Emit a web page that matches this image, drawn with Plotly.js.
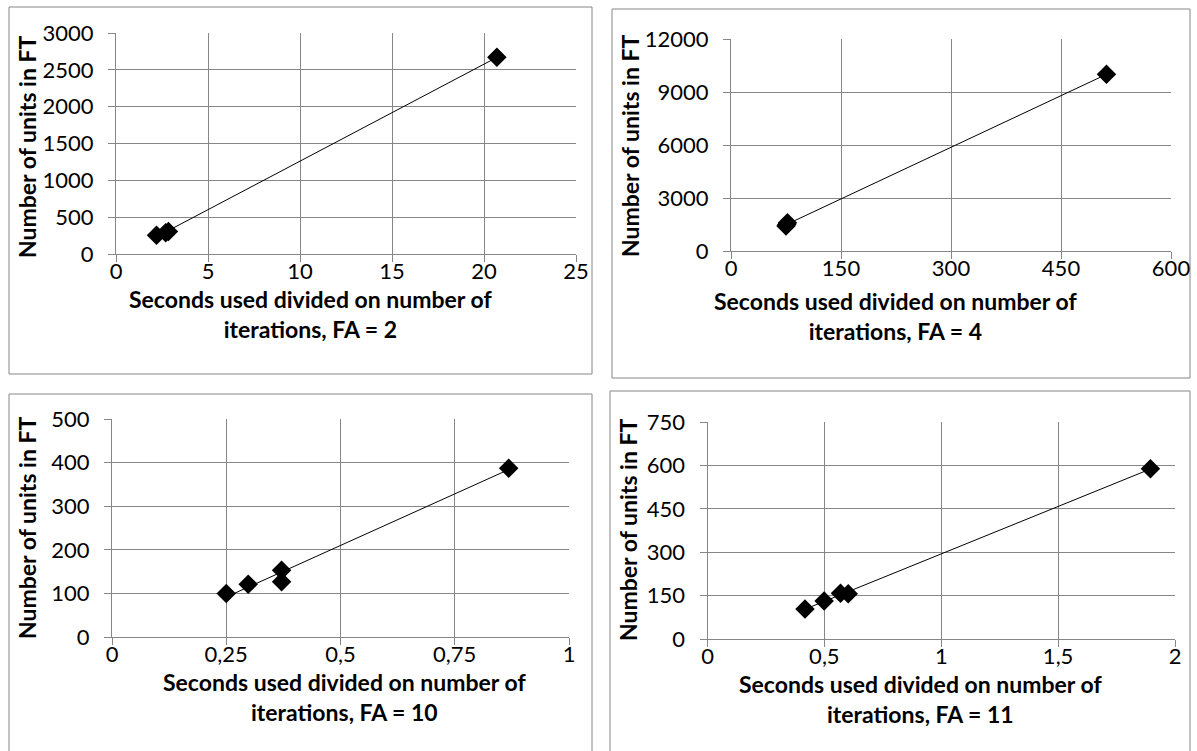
<!DOCTYPE html>
<html>
<head>
<meta charset="utf-8">
<script src="https://cdn.plot.ly/plotly-3.0.1.min.js"></script>
<style>
html,body{margin:0;padding:0;background:#fff;}
#chart{width:1197px;height:751px;}
</style>
</head>
<body>
<div id="chart"></div>
<script>
// ---- Data ----
var fa2_x = [2.2, 2.7, 2.85, 20.7];
var fa2_y = [255, 290, 305, 2670];
var fa4_x = [75, 76, 77, 512];
var fa4_y = [1420, 1500, 1600, 10000];
var fa10_x = [0.25, 0.298, 0.371, 0.371, 0.868];
var fa10_y = [100, 121, 127, 153, 387];
var fa11_x = [0.417, 0.499, 0.569, 0.602, 1.895];
var fa11_y = [104, 131, 158, 156, 588];

var fa2_xticks = [0, 5, 10, 15, 20, 25];
var fa2_yticks = [0, 500, 1000, 1500, 2000, 2500, 3000];
var fa4_xticks = [0, 150, 300, 450, 600];
var fa4_yticks = [0, 3000, 6000, 9000, 12000];
var fa10_xticks = [0, 0.25, 0.5, 0.75, 1];
var fa10_xlabels = ["0", "0,25", "0,5", "0,75", "1"];
var fa10_yticks = [0, 100, 200, 300, 400, 500];
var fa11_xticks = [0, 0.5, 1, 1.5, 2];
var fa11_xlabels = ["0", "0,5", "1", "1,5", "2"];
var fa11_yticks = [0, 150, 300, 450, 600, 750];

var yTitle = "Number of units in FT";
var xTitles = [
  "Seconds used divided on number of<br>iterations, FA = 2",
  "Seconds used divided on number of<br>iterations, FA = 4",
  "Seconds used divided on number of<br>iterations, FA = 10",
  "Seconds used divided on number of<br>iterations, FA = 11"
];

// ---- Layout helpers ----
var W = 1197, H = 751;
function px(x){ return x / W; }
function py(y){ return 1 - y / H; }

var GRID = '#868686';
var FONT = 'Lato, "Open Sans", sans-serif';
var TICKSIZE = 22, TITLESIZE = 23;
var titleFont = {family: FONT, size: TITLESIZE, color: '#000', weight: 'bold'};

// Linear trendline (least squares) spanning the data's x extent, like Excel's
function trend(x, y, xa, ya){
  var n = x.length, sx = 0, sy = 0, sxx = 0, sxy = 0;
  for (var i = 0; i < n; i++){ sx += x[i]; sy += y[i]; sxx += x[i]*x[i]; sxy += x[i]*y[i]; }
  var b = (n*sxy - sx*sy) / (n*sxx - sx*sx), a = (sy - b*sx) / n;
  var x0 = Math.min.apply(null, x), x1 = Math.max.apply(null, x);
  return {x: [x0, x1], y: [a + b*x0, a + b*x1], xaxis: xa, yaxis: ya,
    type: 'scatter', mode: 'lines', line: {color: '#000', width: 1},
    hoverinfo: 'skip', showlegend: false};
}
function pts(x, y, xa, ya){
  return {
    x: x, y: y, xaxis: xa, yaxis: ya, type: 'scatter', mode: 'markers',
    marker: {symbol: 'diamond', size: 15, color: '#000'},
    hoverinfo: 'x+y', showlegend: false
  };
}

function xAxis(domain, range, tv, tt, anchor){
  return {
    domain: domain, range: range, anchor: anchor,
    tickmode: 'array', tickvals: tv, ticktext: tt || tv.map(String),
    showgrid: true, gridcolor: GRID, gridwidth: 1,
    showline: true, linecolor: GRID, linewidth: 1,
    ticks: 'outside', ticklen: 7, tickcolor: GRID, ticklabelstandoff: -9,
    zeroline: false, fixedrange: true,
    tickfont: {family: FONT, size: TICKSIZE, color: '#000'},
    automargin: false
  };
}
function yAxis(domain, range, tv, anchor){
  return {
    domain: domain, range: range, anchor: anchor,
    tickmode: 'array', tickvals: tv, ticktext: tv.map(String),
    showgrid: true, gridcolor: GRID, gridwidth: 1,
    showline: true, linecolor: GRID, linewidth: 1,
    ticks: 'outside', ticklen: 7, tickcolor: GRID, ticklabelstandoff: 10,
    zeroline: false, fixedrange: true,
    tickfont: {family: FONT, size: TICKSIZE, color: '#000'},
    automargin: false
  };
}

var data = [
  trend(fa2_x, fa2_y, 'x', 'y'),    pts(fa2_x, fa2_y, 'x', 'y'),
  trend(fa4_x, fa4_y, 'x2', 'y2'),  pts(fa4_x, fa4_y, 'x2', 'y2'),
  trend(fa10_x, fa10_y, 'x3', 'y3'), pts(fa10_x, fa10_y, 'x3', 'y3'),
  trend(fa11_x, fa11_y, 'x4', 'y4'), pts(fa11_x, fa11_y, 'x4', 'y4')
];

function box(x0, y0, x1, y1){
  return {type: 'rect', xref: 'paper', yref: 'paper',
    x0: px(x0), x1: px(x1), y0: py(y1), y1: py(y0),
    line: {color: GRID, width: 1}, fillcolor: 'rgba(0,0,0,0)', layer: 'below'};
}
function xTitleAnn(text, cx, cy){
  return {text: text, xref: 'paper', yref: 'paper', x: px(cx), y: py(cy),
    xanchor: 'center', yanchor: 'middle', showarrow: false, align: 'center', font: titleFont};
}
function yTitleAnn(cx, cy){
  return {text: yTitle, xref: 'paper', yref: 'paper', x: px(cx), y: py(cy),
    xanchor: 'center', yanchor: 'middle', showarrow: false, textangle: -90, font: titleFont};
}

var layout = {
  width: W, height: H,
  margin: {l: 0, r: 0, t: 0, b: 0},
  paper_bgcolor: '#fff', plot_bgcolor: '#fff',
  font: {family: FONT, color: '#000'},
  showlegend: false,
  xaxis:  xAxis([px(116), px(576)], [0, 25], fa2_xticks, null, 'y'),
  yaxis:  yAxis([py(254), py(33)], [0, 3000], fa2_yticks, 'x'),
  xaxis2: xAxis([px(731), px(1171)], [0, 600], fa4_xticks, null, 'y2'),
  yaxis2: yAxis([py(251), py(39)], [0, 12000], fa4_yticks, 'x2'),
  xaxis3: xAxis([px(112), px(569)], [0, 1], fa10_xticks, fa10_xlabels, 'y3'),
  yaxis3: yAxis([py(637), py(419)], [0, 500], fa10_yticks, 'x3'),
  xaxis4: xAxis([px(707.5), px(1175)], [0, 2], fa11_xticks, fa11_xlabels, 'y4'),
  yaxis4: yAxis([py(639), py(422)], [0, 750], fa11_yticks, 'x4'),
  annotations: [
    xTitleAnn(xTitles[0], 310, 314),
    xTitleAnn(xTitles[1], 895, 316),
    xTitleAnn(xTitles[2], 344, 697),
    xTitleAnn(xTitles[3], 920, 699),
    yTitleAnn(27, 147),
    yTitleAnn(630, 146),
    yTitleAnn(27, 528),
    yTitleAnn(628, 530)
  ],
  shapes: [
    box(9, 7, 592, 374),
    box(612, 9, 1190, 378),
    box(9, 394, 592, 751.5),
    box(610, 391, 1190, 751.5)
  ]
};

Plotly.newPlot('chart', data, layout, {displayModeBar: false, staticPlot: true});
</script>
</body>
</html>
